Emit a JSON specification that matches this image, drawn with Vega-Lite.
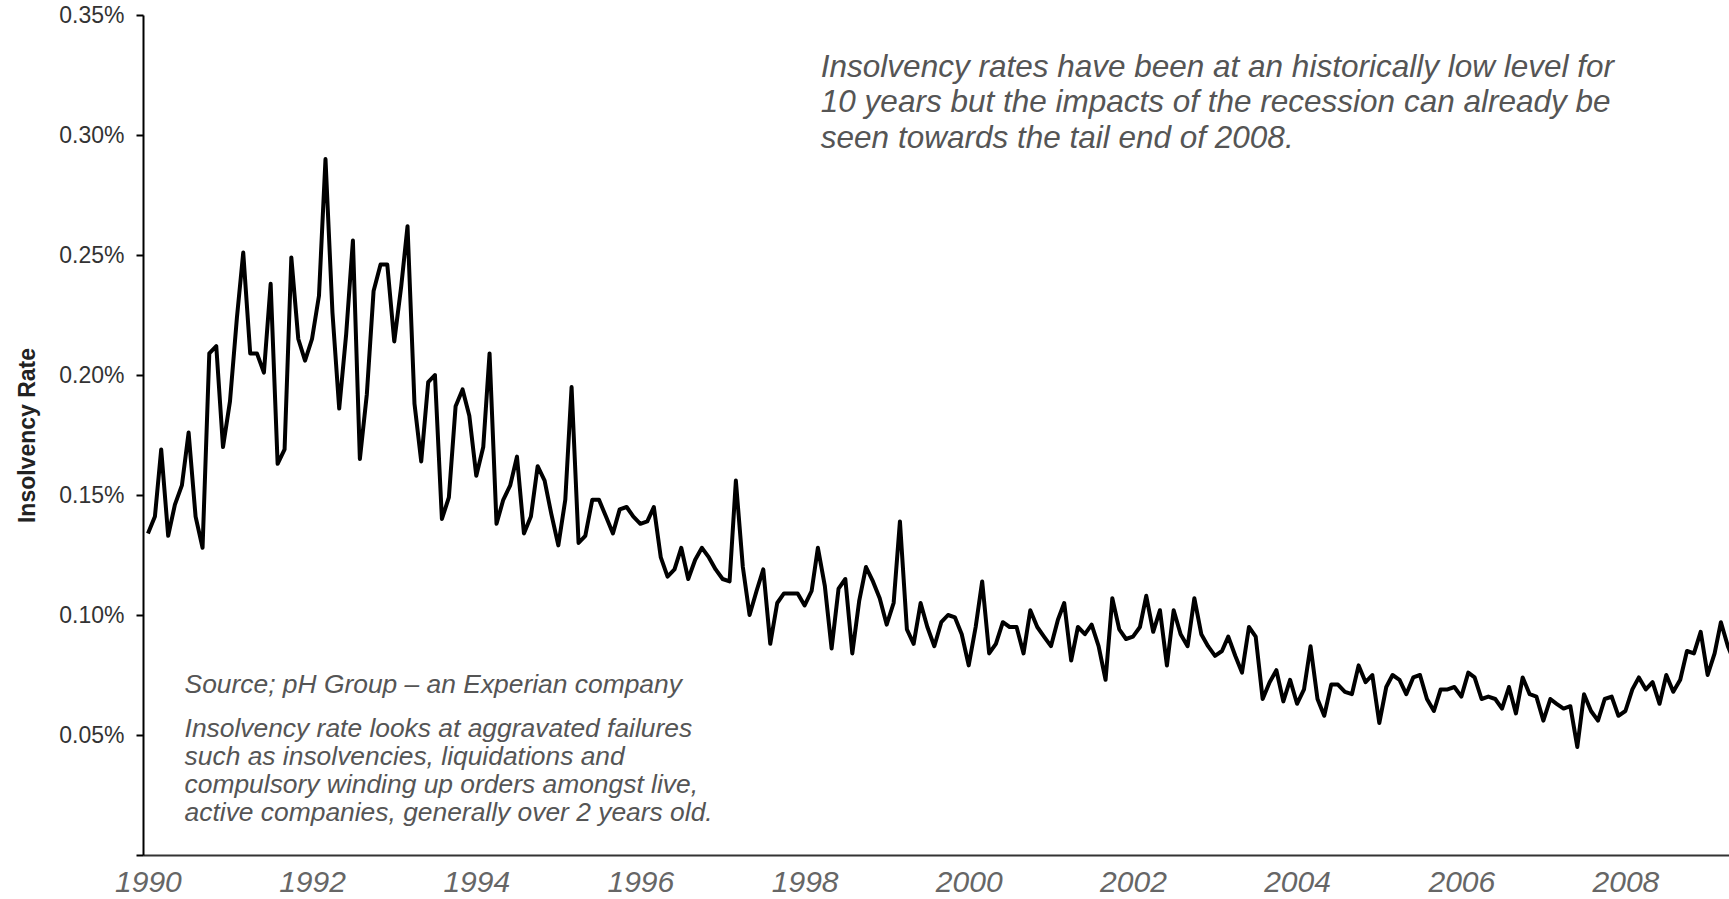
{
  "$schema": "https://vega.github.io/schema/vega-lite/v6.json",
  "width": 1586,
  "height": 840,
  "autosize": {"type": "none"},
  "padding": {"left": 143, "top": 15, "right": 0, "bottom": 44},
  "background": "white",
  "config": {"view": {"stroke": null}, "font": "Liberation Sans"},
  "layer": [
    {
      "data": {"values": [
        {"d":"1990-01-01","v":0.134},{"d":"1990-02-01","v":0.141},{"d":"1990-03-01","v":0.169},{"d":"1990-04-01","v":0.133},{"d":"1990-05-01","v":0.146},{"d":"1990-06-01","v":0.154},{"d":"1990-07-01","v":0.176},{"d":"1990-08-01","v":0.141},{"d":"1990-09-01","v":0.128},{"d":"1990-10-01","v":0.209},{"d":"1990-11-01","v":0.212},{"d":"1990-12-01","v":0.170},
        {"d":"1991-01-01","v":0.189},{"d":"1991-02-01","v":0.224},{"d":"1991-03-01","v":0.251},{"d":"1991-04-01","v":0.209},{"d":"1991-05-01","v":0.209},{"d":"1991-06-01","v":0.201},{"d":"1991-07-01","v":0.238},{"d":"1991-08-01","v":0.163},{"d":"1991-09-01","v":0.169},{"d":"1991-10-01","v":0.249},{"d":"1991-11-01","v":0.215},{"d":"1991-12-01","v":0.206},
        {"d":"1992-01-01","v":0.215},{"d":"1992-02-01","v":0.233},{"d":"1992-03-01","v":0.290},{"d":"1992-04-01","v":0.226},{"d":"1992-05-01","v":0.186},{"d":"1992-06-01","v":0.217},{"d":"1992-07-01","v":0.256},{"d":"1992-08-01","v":0.165},{"d":"1992-09-01","v":0.192},{"d":"1992-10-01","v":0.235},{"d":"1992-11-01","v":0.246},{"d":"1992-12-01","v":0.246},
        {"d":"1993-01-01","v":0.214},{"d":"1993-02-01","v":0.237},{"d":"1993-03-01","v":0.262},{"d":"1993-04-01","v":0.188},{"d":"1993-05-01","v":0.164},{"d":"1993-06-01","v":0.197},{"d":"1993-07-01","v":0.200},{"d":"1993-08-01","v":0.140},{"d":"1993-09-01","v":0.149},{"d":"1993-10-01","v":0.187},{"d":"1993-11-01","v":0.194},{"d":"1993-12-01","v":0.183},
        {"d":"1994-01-01","v":0.158},{"d":"1994-02-01","v":0.170},{"d":"1994-03-01","v":0.209},{"d":"1994-04-01","v":0.138},{"d":"1994-05-01","v":0.148},{"d":"1994-06-01","v":0.154},{"d":"1994-07-01","v":0.166},{"d":"1994-08-01","v":0.134},{"d":"1994-09-01","v":0.141},{"d":"1994-10-01","v":0.162},{"d":"1994-11-01","v":0.156},{"d":"1994-12-01","v":0.142},
        {"d":"1995-01-01","v":0.129},{"d":"1995-02-01","v":0.148},{"d":"1995-03-01","v":0.195},{"d":"1995-04-01","v":0.130},{"d":"1995-05-01","v":0.133},{"d":"1995-06-01","v":0.148},{"d":"1995-07-01","v":0.148},{"d":"1995-08-01","v":0.141},{"d":"1995-09-01","v":0.134},{"d":"1995-10-01","v":0.144},{"d":"1995-11-01","v":0.145},{"d":"1995-12-01","v":0.141},
        {"d":"1996-01-01","v":0.138},{"d":"1996-02-01","v":0.139},{"d":"1996-03-01","v":0.145},{"d":"1996-04-01","v":0.124},{"d":"1996-05-01","v":0.116},{"d":"1996-06-01","v":0.119},{"d":"1996-07-01","v":0.128},{"d":"1996-08-01","v":0.115},{"d":"1996-09-01","v":0.123},{"d":"1996-10-01","v":0.128},{"d":"1996-11-01","v":0.124},{"d":"1996-12-01","v":0.119},
        {"d":"1997-01-01","v":0.115},{"d":"1997-02-01","v":0.114},{"d":"1997-03-01","v":0.156},{"d":"1997-04-01","v":0.120},{"d":"1997-05-01","v":0.100},{"d":"1997-06-01","v":0.110},{"d":"1997-07-01","v":0.119},{"d":"1997-08-01","v":0.088},{"d":"1997-09-01","v":0.105},{"d":"1997-10-01","v":0.109},{"d":"1997-11-01","v":0.109},{"d":"1997-12-01","v":0.109},
        {"d":"1998-01-01","v":0.104},{"d":"1998-02-01","v":0.110},{"d":"1998-03-01","v":0.128},{"d":"1998-04-01","v":0.112},{"d":"1998-05-01","v":0.086},{"d":"1998-06-01","v":0.111},{"d":"1998-07-01","v":0.115},{"d":"1998-08-01","v":0.084},{"d":"1998-09-01","v":0.106},{"d":"1998-10-01","v":0.120},{"d":"1998-11-01","v":0.114},{"d":"1998-12-01","v":0.107},
        {"d":"1999-01-01","v":0.096},{"d":"1999-02-01","v":0.105},{"d":"1999-03-01","v":0.139},{"d":"1999-04-01","v":0.094},{"d":"1999-05-01","v":0.088},{"d":"1999-06-01","v":0.105},{"d":"1999-07-01","v":0.095},{"d":"1999-08-01","v":0.087},{"d":"1999-09-01","v":0.097},{"d":"1999-10-01","v":0.100},{"d":"1999-11-01","v":0.099},{"d":"1999-12-01","v":0.092},
        {"d":"2000-01-01","v":0.079},{"d":"2000-02-01","v":0.095},{"d":"2000-03-01","v":0.114},{"d":"2000-04-01","v":0.084},{"d":"2000-05-01","v":0.088},{"d":"2000-06-01","v":0.097},{"d":"2000-07-01","v":0.095},{"d":"2000-08-01","v":0.095},{"d":"2000-09-01","v":0.084},{"d":"2000-10-01","v":0.102},{"d":"2000-11-01","v":0.095},{"d":"2000-12-01","v":0.091},
        {"d":"2001-01-01","v":0.087},{"d":"2001-02-01","v":0.098},{"d":"2001-03-01","v":0.105},{"d":"2001-04-01","v":0.081},{"d":"2001-05-01","v":0.095},{"d":"2001-06-01","v":0.092},{"d":"2001-07-01","v":0.096},{"d":"2001-08-01","v":0.087},{"d":"2001-09-01","v":0.073},{"d":"2001-10-01","v":0.107},{"d":"2001-11-01","v":0.094},{"d":"2001-12-01","v":0.090},
        {"d":"2002-01-01","v":0.091},{"d":"2002-02-01","v":0.095},{"d":"2002-03-01","v":0.108},{"d":"2002-04-01","v":0.093},{"d":"2002-05-01","v":0.102},{"d":"2002-06-01","v":0.079},{"d":"2002-07-01","v":0.102},{"d":"2002-08-01","v":0.092},{"d":"2002-09-01","v":0.087},{"d":"2002-10-01","v":0.107},{"d":"2002-11-01","v":0.092},{"d":"2002-12-01","v":0.087},
        {"d":"2003-01-01","v":0.083},{"d":"2003-02-01","v":0.085},{"d":"2003-03-01","v":0.091},{"d":"2003-04-01","v":0.083},{"d":"2003-05-01","v":0.076},{"d":"2003-06-01","v":0.095},{"d":"2003-07-01","v":0.091},{"d":"2003-08-01","v":0.065},{"d":"2003-09-01","v":0.072},{"d":"2003-10-01","v":0.077},{"d":"2003-11-01","v":0.064},{"d":"2003-12-01","v":0.073},
        {"d":"2004-01-01","v":0.063},{"d":"2004-02-01","v":0.069},{"d":"2004-03-01","v":0.087},{"d":"2004-04-01","v":0.065},{"d":"2004-05-01","v":0.058},{"d":"2004-06-01","v":0.071},{"d":"2004-07-01","v":0.071},{"d":"2004-08-01","v":0.068},{"d":"2004-09-01","v":0.067},{"d":"2004-10-01","v":0.079},{"d":"2004-11-01","v":0.072},{"d":"2004-12-01","v":0.075},
        {"d":"2005-01-01","v":0.055},{"d":"2005-02-01","v":0.070},{"d":"2005-03-01","v":0.075},{"d":"2005-04-01","v":0.073},{"d":"2005-05-01","v":0.067},{"d":"2005-06-01","v":0.074},{"d":"2005-07-01","v":0.075},{"d":"2005-08-01","v":0.065},{"d":"2005-09-01","v":0.060},{"d":"2005-10-01","v":0.069},{"d":"2005-11-01","v":0.069},{"d":"2005-12-01","v":0.070},
        {"d":"2006-01-01","v":0.066},{"d":"2006-02-01","v":0.076},{"d":"2006-03-01","v":0.074},{"d":"2006-04-01","v":0.065},{"d":"2006-05-01","v":0.066},{"d":"2006-06-01","v":0.065},{"d":"2006-07-01","v":0.061},{"d":"2006-08-01","v":0.070},{"d":"2006-09-01","v":0.059},{"d":"2006-10-01","v":0.074},{"d":"2006-11-01","v":0.067},{"d":"2006-12-01","v":0.066},
        {"d":"2007-01-01","v":0.056},{"d":"2007-02-01","v":0.065},{"d":"2007-03-01","v":0.063},{"d":"2007-04-01","v":0.061},{"d":"2007-05-01","v":0.062},{"d":"2007-06-01","v":0.045},{"d":"2007-07-01","v":0.067},{"d":"2007-08-01","v":0.060},{"d":"2007-09-01","v":0.056},{"d":"2007-10-01","v":0.065},{"d":"2007-11-01","v":0.066},{"d":"2007-12-01","v":0.058},
        {"d":"2008-01-01","v":0.060},{"d":"2008-02-01","v":0.069},{"d":"2008-03-01","v":0.074},{"d":"2008-04-01","v":0.069},{"d":"2008-05-01","v":0.072},{"d":"2008-06-01","v":0.063},{"d":"2008-07-01","v":0.075},{"d":"2008-08-01","v":0.068},{"d":"2008-09-01","v":0.073},{"d":"2008-10-01","v":0.085},{"d":"2008-11-01","v":0.084},{"d":"2008-12-01","v":0.093},
        {"d":"2009-01-01","v":0.075},{"d":"2009-02-01","v":0.084},{"d":"2009-03-01","v":0.097},{"d":"2009-04-01","v":0.087},{"d":"2009-05-01","v":0.080}
      ]},
      "mark": {"type": "line", "color": "black", "strokeWidth": 4, "strokeJoin": "round", "clip": true},
      "encoding": {
        "x": {
          "field": "d", "type": "temporal",
          "scale": {"type": "utc", "domain": [{"year": 1989, "month": 12, "date": 10, "utc": true}, {"year": 2009, "month": 4, "date": 6, "utc": true}]},
          "axis": {
            "title": null, "grid": false,
            "values": [
              {"year": 1990, "utc": true}, {"year": 1992, "utc": true}, {"year": 1994, "utc": true}, {"year": 1996, "utc": true}, {"year": 1998, "utc": true},
              {"year": 2000, "utc": true}, {"year": 2002, "utc": true}, {"year": 2004, "utc": true}, {"year": 2006, "utc": true}, {"year": 2008, "utc": true}
            ],
            "format": "%Y", "formatType": "utc",
            "ticks": false, "tickSize": 0,
            "labelFont": "Liberation Sans", "labelFontStyle": "italic", "labelFontSize": 30, "labelColor": "#666666",
            "labelBaseline": "alphabetic", "labelPadding": 36, "labelFlush": false, "labelOverlap": false,
            "domainColor": "#333333", "domainWidth": 2
          }
        },
        "y": {
          "field": "v", "type": "quantitative",
          "scale": {"domain": [0, 0.35], "nice": false},
          "axis": {
            "title": "Insolvency Rate", "grid": false,
            "values": [0, 0.05, 0.1, 0.15, 0.2, 0.25, 0.3, 0.35],
            "labelExpr": "datum.value == 0 ? '' : format(datum.value, '.2f') + '%'",
            "labelFont": "Liberation Sans", "labelFontSize": 23, "labelColor": "#333333", "labelPadding": 12,
            "tickSize": 7, "tickWidth": 2, "tickColor": "black",
            "domainColor": "black", "domainWidth": 2,
            "titleFont": "Liberation Sans", "titleFontSize": 23, "titleFontWeight": "bold", "titleColor": "#222222",
            "titleX": -116, "titleY": 420, "titleBaseline": "middle", "titleAlign": "center", "titleAngle": -90
          }
        }
      }
    },
    {
      "data": {"values": [{}]},
      "mark": {
        "type": "text", "align": "left", "baseline": "alphabetic",
        "font": "Liberation Sans", "fontStyle": "italic", "fontSize": 31.5, "lineHeight": 35.5, "color": "#555555",
        "text": ["Insolvency rates have been at an historically low level for", "10 years but the impacts of the recession can already be", "seen towards the tail end of 2008."]
      },
      "encoding": {
        "x": {"datum": {"year": 1998, "month": 3, "date": 14, "utc": true}, "type": "temporal"},
        "y": {"datum": 0.3243, "type": "quantitative"}
      }
    },
    {
      "data": {"values": [{}]},
      "mark": {
        "type": "text", "align": "left", "baseline": "alphabetic",
        "font": "Liberation Sans", "fontStyle": "italic", "fontSize": 26.4, "color": "#555555",
        "text": "Source; pH Group – an Experian company"
      },
      "encoding": {
        "x": {"datum": {"year": 1990, "month": 6, "date": 13, "utc": true}, "type": "temporal"},
        "y": {"datum": 0.0676, "type": "quantitative"}
      }
    },
    {
      "data": {"values": [{}]},
      "mark": {
        "type": "text", "align": "left", "baseline": "alphabetic",
        "font": "Liberation Sans", "fontStyle": "italic", "fontSize": 26.4, "lineHeight": 27.8, "color": "#555555",
        "text": ["Insolvency rate looks at aggravated failures", "such as insolvencies, liquidations and", "compulsory winding up orders amongst live,", "active companies, generally over 2 years old."]
      },
      "encoding": {
        "x": {"datum": {"year": 1990, "month": 6, "date": 13, "utc": true}, "type": "temporal"},
        "y": {"datum": 0.0490, "type": "quantitative"}
      }
    }
  ]
}
